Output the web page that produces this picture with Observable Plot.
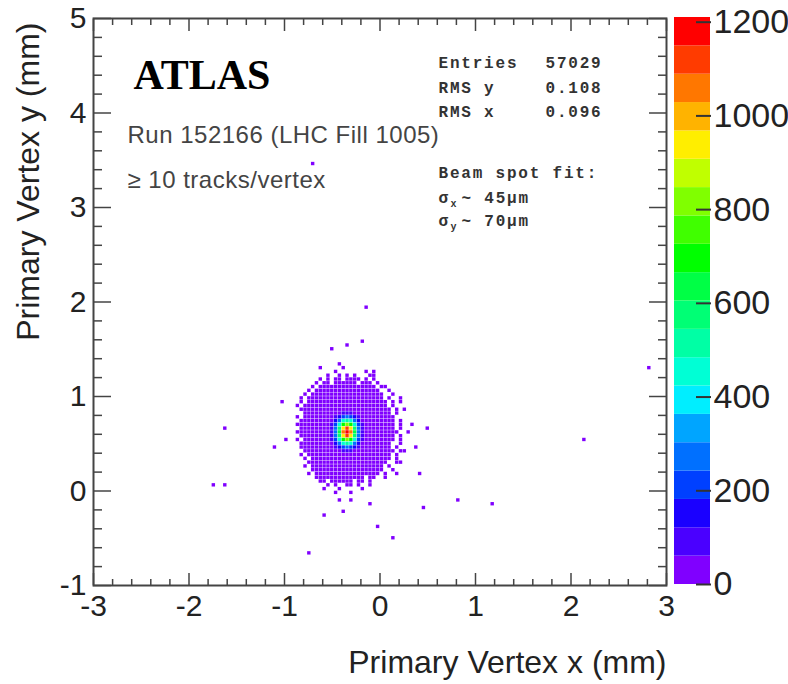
<!DOCTYPE html>
<html><head><meta charset="utf-8">
<script src="https://cdn.jsdelivr.net/npm/d3@7"></script>
<script src="https://cdn.jsdelivr.net/npm/@observablehq/plot@0.6"></script>
<style>
html,body{margin:0;padding:0;background:#fff;}
#chart{position:relative;width:788px;height:684px;overflow:hidden;background:#fff;}
#chart svg{position:absolute;top:0;}
g[font-family="Liberation Mono"] text{letter-spacing:1.8px;}
g[font-family="Liberation Sans"][font-size="24"] text{letter-spacing:0.5px;}
</style></head><body><div id="chart"></div>
<script>
// ---------------- data ----------------
const xDomain = [-3, 3];
const yDomain = [-1, 5];
const binSize = 0.04;          // histogram bin width (mm), x and y
const blobLeftEdge = -0.88;    // x of left edge of column 0 of blobRows
const blobTopEdge = 1.32;      // y of top edge of row 0 of blobRows
// '.' = empty bin, '1'..'9','a'..'k' = colour band 1..20
const levelCodes = ".123456789abcdefghijk";
const blobRows = [
  "......1.....1",
  "..........1.......1.1",
  "........1..1.1.1...11",
  "......1.1.11.1111.1.1",
  ".....1.11.111111.111.1",
  "....1.111111111111111.11",
  "...1.11111111111111111..1",
  "..1.1111111111111111111..1",
  ".1.11111111111111111111.1",
  ".1.111111111111111111111.1.1",
  "1.1111111111111111111111.1",
  ".111111111111111111111111.1",
  "..1111111" + "111222111" + "1111111.1.",
  "1.1111111" + "123454321" + "11111111.",
  ".11111111" + "135898531" + "11111111.1",
  "111111111" + "248cec842" + "11111111.1",
  ".11111111" + "25agjga52" + "11111111.1",
  "111111111" + "25bikib52" + "111111111.",
  ".11111111" + "25agjga52" + "11111111.1",
  "1.1111111" + "248cec842" + "11111111.1",
  ".11111111" + "135898531" + "1111111..1",
  ".11111111" + "123454321" + "1111111.1",
  "..1111111" + "111222111" + "11111111.1",
  ".1.1111111111111111111111.1",
  "..1.111111111111111111111.1",
  "...111111111111111111111..1",
  "..1.1111111111111111111.1",
  "....1111111111111111111..1",
  "...1.11111111111111111.1",
  ".....1111111111111.11..1",
  "......11.111111.11.1",
  "........1.1..11.1..1",
  ".......1...1.....1",
  "..........1...1"
];
// isolated single-entry vertices (mm)
const outlierX = [-0.69, -0.16, -0.19, -0.34, -0.52, -1.03, -1.62, 0.50, 2.81, 2.15, -1.09, -1.74, -1.62, 0.42, 0.80, 1.19, 0.45, -0.10, -0.28, -0.43, -0.40, -0.58, -0.04, 0.12, -0.75, 0.20, 0.24, 0.33, 0.29, 0.38, 0.26, 0.21, 0.18, -0.97, -0.43];
const outlierY = [3.47, 1.93, 1.57, 1.54, 1.48, 0.94, 0.67, 0.67, 1.30, 0.55, 0.46, 0.06, 0.04, 0.18, -0.09, -0.15, -0.18, -0.15, -0.09, -0.09, -0.24, -0.27, -0.39, -0.51, -0.66, 0.98, 0.86, 0.71, 0.60, 0.45, 0.40, 0.30, 0.18, 0.55, 1.34];
// colour bands of the z axis
const bandEdges = [0, 60.5, 121, 181.5, 242, 302.5, 363, 423.5, 484, 544.5, 605, 665.5, 726, 786.5, 847, 907.5, 968, 1028.5, 1089, 1149.5, 1210];
const bandColors = ["#8000ff", "#4a00ff", "#1a00ff", "#0040ff", "#0070ff", "#00a5ff", "#00eeff", "#00ffd5", "#00ffa5", "#00ff75",
                    "#00ff45", "#00ff00", "#40ff00", "#80ff00", "#c0ff00", "#ffee00", "#ffb300", "#ff7700", "#ff3b00", "#ff0000"];
const xTicks = [-3, -2, -1, 0, 1, 2, 3];
const xTickLabels = ["-3", "-2", "-1", "0", "1", "2", "3"];
const yTicks = [-1, 0, 1, 2, 3, 4, 5];
const yTickLabels = ["-1", "0", "1", "2", "3", "4", "5"];
const zTicks = [0, 200, 400, 600, 800, 1000, 1200];
const zTickLabels = ["0", "200", "400", "600", "800", "1000", "1200"];
const statLabels = ["Entries", "RMS y", "RMS x"];
const statValues = ["57029", "0.108", "0.096"];
const fitTitle = "Beam spot fit:";
const fitSubs = ["x", "y"];
const fitValues = ["~ 45μm", "~ 70μm"];
const xTitle = "Primary Vertex x (mm)";
const yTitle = "Primary Vertex y (mm)";
const expLabel = "ATLAS";
const runLabel = "Run 152166 (LHC Fill 1005)";
const selLabel = "≥ 10 tracks/vertex";

// ---------------- build cells ----------------
const cells = [];
blobRows.forEach((row, r) => {
  [...row].forEach((ch, c) => {
    const band = levelCodes.indexOf(ch);
    if (band <= 0) return;
    const x1 = blobLeftEdge + c * binSize;
    const y2 = blobTopEdge - r * binSize;
    cells.push({x1, x2: x1 + binSize, y1: y2 - binSize, y2, count: (bandEdges[band - 1] + bandEdges[band]) / 2});
  });
});
outlierX.forEach((x, k) => {
  const x1 = xDomain[0] + Math.floor((x - xDomain[0]) / binSize) * binSize;
  const y1 = yDomain[0] + Math.floor((outlierY[k] - yDomain[0]) / binSize) * binSize;
  cells.push({x1, x2: x1 + binSize, y1, y2: y1 + binSize, count: 1});
});

const colorOpts = {type: "threshold", domain: bandEdges.slice(1, -1), range: bandColors};
const xMinor = d3.range(-30, 31, 2).map(v => v / 10).filter(v => !xTicks.includes(v));
const yMinor = d3.range(-10, 51, 2).map(v => v / 10).filter(v => !yTicks.includes(v));
const tickColor = "#444";
const sans = "Liberation Sans";
const mono = "Liberation Mono";
const statStyle = {frameAnchor: "top-left", textAnchor: "start", lineAnchor: "bottom", fontFamily: mono, fontWeight: "bold", fill: "#333"};

const statMarks = [];
statLabels.forEach((s, i) => {
  const dy = [49, 74, 98][i];
  statMarks.push(Plot.text([s], {...statStyle, text: d => d, dx: 345, dy, fontSize: 16}));
  statMarks.push(Plot.text([statValues[i]], {...statStyle, text: d => d, dx: 452, dy, fontSize: 16}));
});
statMarks.push(Plot.text([fitTitle], {...statStyle, text: d => d, dx: 345, dy: 159, fontSize: 16}));
fitSubs.forEach((s, i) => {
  const dy = [184, 207][i];
  statMarks.push(Plot.text(["σ"], {...statStyle, text: d => d, dx: 345, dy, fontSize: 16}));
  statMarks.push(Plot.text([s], {...statStyle, text: d => d, dx: 357, dy: dy + 4, fontSize: 10}));
  statMarks.push(Plot.text([fitValues[i]], {...statStyle, text: d => d, dx: 368, dy, fontSize: 16}));
});

const main = Plot.plot({
  width: 788, height: 684,
  marginLeft: 93, marginRight: 122, marginTop: 18, marginBottom: 99,
  x: {domain: xDomain},
  y: {domain: yDomain},
  color: colorOpts,
  style: {fontFamily: sans, background: "transparent"},
  marks: [
    Plot.rect(cells, {x1: "x1", x2: "x2", y1: "y1", y2: "y2", fill: "count", inset: 0.2}),
    // ticks (inward, all four sides)
    Plot.axisX(xTicks, {anchor: "bottom", tickSize: -12, tickFormat: () => "", label: null, stroke: tickColor, strokeWidth: 1.5}),
    Plot.axisX(xMinor, {anchor: "bottom", tickSize: -6, tickFormat: () => "", label: null, stroke: tickColor, strokeWidth: 1.5}),
    Plot.axisX(xTicks, {anchor: "top", tickSize: -12, tickFormat: () => "", label: null, stroke: tickColor, strokeWidth: 1.5}),
    Plot.axisX(xMinor, {anchor: "top", tickSize: -6, tickFormat: () => "", label: null, stroke: tickColor, strokeWidth: 1.5}),
    Plot.axisY(yTicks, {anchor: "left", tickSize: -18, tickFormat: () => "", label: null, stroke: tickColor, strokeWidth: 1.5}),
    Plot.axisY(yMinor, {anchor: "left", tickSize: -9, tickFormat: () => "", label: null, stroke: tickColor, strokeWidth: 1.5}),
    Plot.axisY(yTicks, {anchor: "right", tickSize: -18, tickFormat: () => "", label: null, stroke: tickColor, strokeWidth: 1.5}),
    Plot.axisY(yMinor, {anchor: "right", tickSize: -9, tickFormat: () => "", label: null, stroke: tickColor, strokeWidth: 1.5}),
    // tick labels
    Plot.axisX(xTicks, {anchor: "bottom", tickSize: 0, tickPadding: 9, tickFormat: d => xTickLabels[xTicks.indexOf(d)], label: null, fontSize: 30, fill: "#222"}),
    Plot.axisY(yTicks, {anchor: "left", tickSize: 0, tickPadding: 7, tickFormat: d => yTickLabels[yTicks.indexOf(d)], label: null, fontSize: 30, fill: "#222"}),
    Plot.frame({stroke: "#444", strokeWidth: 2}),
    // axis titles
    Plot.text([xTitle], {text: d => d, frameAnchor: "bottom-right", textAnchor: "end", lineAnchor: "bottom", dy: 87, fontSize: 32, fill: "#222"}),
    Plot.text([yTitle], {text: d => d, frameAnchor: "top-left", textAnchor: "end", lineAnchor: "bottom", rotate: -90, dx: -55, dy: 4, fontSize: 32, fill: "#222"}),
    // annotations
    Plot.text([expLabel], {text: d => d, frameAnchor: "top-left", textAnchor: "start", lineAnchor: "bottom", dx: 40, dy: 70, fontFamily: "Liberation Serif", fontWeight: "bold", fontSize: 42, fill: "#000"}),
    Plot.text([runLabel], {text: d => d, frameAnchor: "top-left", textAnchor: "start", lineAnchor: "bottom", dx: 34, dy: 124, fontFamily: sans, fontSize: 24, fill: "#444"}),
    Plot.text([selLabel], {text: d => d, frameAnchor: "top-left", textAnchor: "start", lineAnchor: "bottom", dx: 34, dy: 169, fontFamily: sans, fontSize: 24, fill: "#444"}),
    ...statMarks
  ]
});
main.style.left = "0px";

const bands = bandColors.map((c, k) => ({y1: bandEdges[k], y2: bandEdges[k + 1], mid: (bandEdges[k] + bandEdges[k + 1]) / 2}));
const cbar = Plot.plot({
  width: 114, height: 684,
  marginLeft: 0, marginRight: 78, marginTop: 17, marginBottom: 100,
  x: {domain: [0, 1], axis: null},
  y: {domain: [bandEdges[0], bandEdges[bandEdges.length - 1]]},
  color: colorOpts,
  style: {fontFamily: sans, background: "transparent"},
  marks: [
    Plot.rect(bands, {x1: 0, x2: 1, y1: "y1", y2: "y2", fill: "mid"}),
    Plot.axisY(zTicks, {anchor: "right", tickSize: -15, tickFormat: () => "", label: null, stroke: "#333", strokeWidth: 2}),
    Plot.axisY(zTicks, {anchor: "right", tickSize: 0, tickPadding: 3, tickFormat: d => zTickLabels[zTicks.indexOf(d)], label: null, fontSize: 34, fill: "#222"})
  ]
});
cbar.style.left = "674px";

const chart = document.getElementById("chart");
chart.appendChild(main);
chart.appendChild(cbar);
</script>
</body></html>
